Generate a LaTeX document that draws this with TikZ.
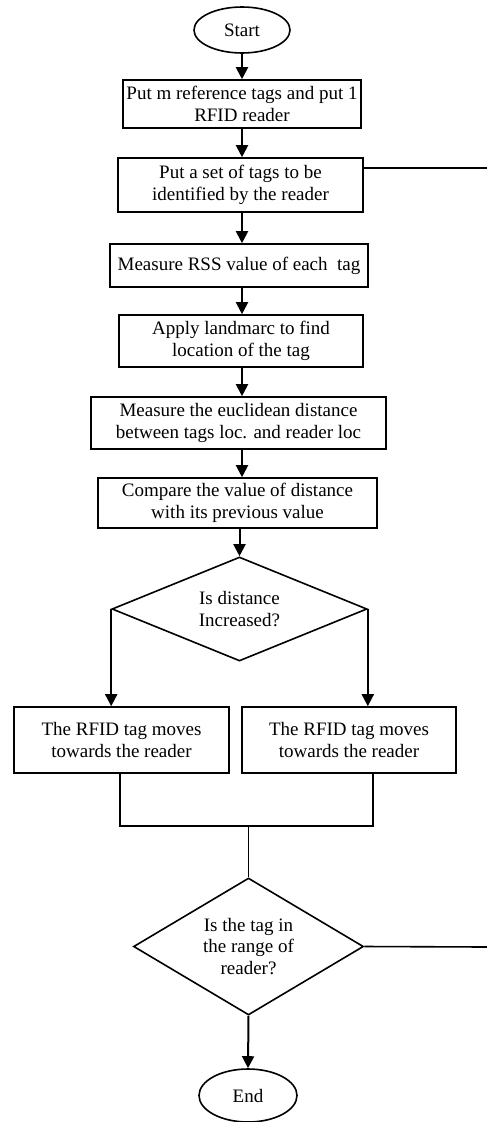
\documentclass[tikz,border=0pt]{standalone}
\usepackage{fontspec}
\setmainfont{Liberation Serif}
\usetikzlibrary{shapes.geometric,arrows.meta,calc}
\begin{document}
\begin{tikzpicture}[x=1pt,y=-1pt,
  every node/.style={font=\fontsize{19}{21.5}\selectfont, align=center, inner sep=0pt},
  procbox/.style={draw, rectangle, line width=1.6pt},
  term/.style={draw, ellipse, line width=1.6pt},
  decide/.style={draw, diamond, line width=1.6pt},
  arr/.style={line width=2pt, -{Triangle[width=12pt,length=12pt]}},
  ln/.style={line width=1.6pt}]
\useasboundingbox (0,0) rectangle (487,1122);
\node[term, minimum width=96pt, minimum height=46pt] (start) at (242,30) {Start};
\node[procbox, minimum width=238pt, minimum height=48pt] (b1) at (242,104) {Put m reference tags and put 1\\RFID reader};
\node[procbox, minimum width=245pt, minimum height=54pt] (b2) at (240.5,185) {Put a set of tags to be\\identified by the reader};
\node[procbox, minimum width=258pt, minimum height=43pt] (b3) at (239,265.5) {Measure RSS value of each\ \ tag};
\node[procbox, minimum width=244pt, minimum height=52pt] (b4) at (241,341) {Apply landmarc to find\\location of the tag};
\node[procbox, minimum width=295pt, minimum height=52pt] (b5) at (238.5,423) {Measure the euclidean distance\\between tags loc. and reader loc};
\node[procbox, minimum width=279pt, minimum height=50pt] (b6) at (237.5,503) {Compare the value of distance\\with its previous value};
\node[decide, minimum width=255pt, minimum height=104pt, aspect=2.45] (d1) at (239.5,609) {Is distance\\Increased?};
\node[procbox, minimum width=215pt, minimum height=66pt] (b7) at (121.5,740) {The RFID tag moves\\towards the reader};
\node[procbox, minimum width=214pt, minimum height=66pt] (b8) at (349,740) {The RFID tag moves\\towards the reader};
\node[decide, minimum width=230pt, minimum height=137pt, aspect=1.68] (d2) at (248.5,946.5) {Is the tag in\\the range of\\reader?};
\node[term, minimum width=98pt, minimum height=53pt] (end) at (248,1095.5) {End};
\coordinate (eR1) at (487,168);
\coordinate (eR2) at (487,947);
\coordinate (mL) at (120,826);
\coordinate (mR) at (373,826);
\draw[arr] (start) -- (b1);
\draw[arr] (b1.south -| start) -- (b2.north -| start);
\draw[arr] (b2.south -| start) -- (b3.north -| start);
\draw[arr] (b3.south -| start) -- (b4.north -| start);
\draw[arr] (b4.south -| start) -- (b5.north -| start);
\draw[arr] (b5.south -| start) -- (b6.north -| start);
\draw[arr] (b6.south -| d1.north) -- (d1.north);
\draw[arr] (d1.west) -- (d1.west |- b7.north);
\draw[arr] (d1.east) -- (d1.east |- b8.north);
\draw[ln] (b7.south -| mL) -- (mL) -- (mR) -- (b8.south -| mR);
\draw[ln] (mL -| d2.north) -- (d2.north);
\draw[arr] (d2.south) -- (end.north);
\draw[ln] (b2.east |- eR1) -- (eR1);
\draw[ln] (d2.east) -- (eR2);
\end{tikzpicture}
\end{document}
